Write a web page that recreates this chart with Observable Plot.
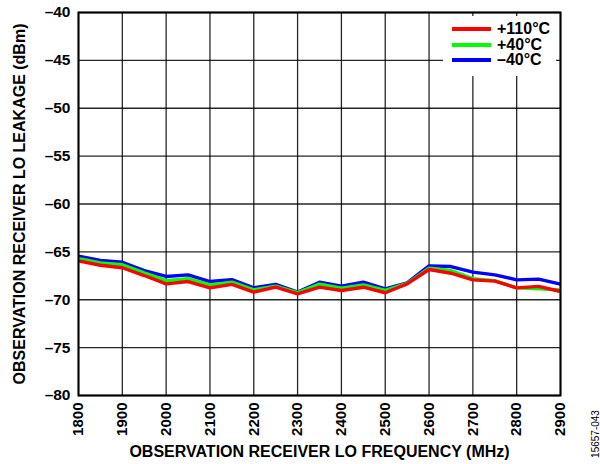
<!DOCTYPE html>
<html>
<head>
<meta charset="utf-8">
<script src="https://cdn.jsdelivr.net/npm/d3@7"></script>
<script src="https://cdn.jsdelivr.net/npm/@observablehq/plot@0.6"></script>
<style>
  html, body { margin: 0; padding: 0; background: #fff; }
  #wrap { position: relative; width: 600px; height: 464px; font-family: "Liberation Sans", Arial, sans-serif; }
  #legend { position: absolute; left: 443px; top: 16px; width: 113px; height: 60px; background: #fff; }
  #legend .row { position: absolute; left: 0; height: 16px; display: flex; align-items: center; }
  #legend .sw { width: 39px; height: 4px; margin-left: 9px; margin-right: 6px; }
  #legend .lbl { font-weight: bold; font-size: 16px; color: #000; line-height: 16px; }
  #code { position: absolute; left: 595px; top: 434px; transform: translate(-50%, -50%) rotate(-90deg); font-size: 10px; color: #000; white-space: nowrap; }
</style>
</head>
<body>
<div id="wrap"></div>
<script>
const freq = [1800,1850,1900,1950,2000,2050,2100,2150,2200,2250,2300,2350,2400,2450,2500,2550,2600,2650,2700,2750,2800,2850,2900];
const t110 = [-65.94,-66.4,-66.66,-67.47,-68.34,-68.1,-68.76,-68.4,-69.2,-68.69,-69.38,-68.68,-69.03,-68.69,-69.27,-68.34,-66.84,-67.23,-67.92,-68.06,-68.76,-68.6,-69.14];
const t40  = [-65.7,-66.15,-66.35,-67.2,-68.0,-67.8,-68.45,-68.17,-68.97,-68.58,-69.25,-68.37,-68.79,-68.45,-69.03,-68.28,-66.7,-66.95,-67.8,-68.0,-68.76,-68.86,-68.97];
const tm40 = [-65.45,-65.9,-66.08,-66.95,-67.57,-67.4,-68.1,-67.9,-68.76,-68.4,-69.2,-68.17,-68.58,-68.17,-68.86,-68.24,-66.46,-66.53,-67.12,-67.4,-67.92,-67.85,-68.37];
const seriesNames = ["+110°C", "+40°C", "\u221240°C"];
const seriesColors = ["#ff0000", "#00ff00", "#0000ff"];
const xTicks = [1800,1900,2000,2100,2200,2300,2400,2500,2600,2700,2800,2900];
const yTicks = [-80,-75,-70,-65,-60,-55,-50,-45,-40];
const xTitle = "OBSERVATION RECEIVER LO FREQUENCY (MHz)";
const yTitle = "OBSERVATION RECEIVER LO LEAKAGE (dBm)";
const figCode = "15657-043";

const valuesBySeries = [t110, t40, tm40];
const rows = [];
// draw order: blue first, then green, red on top
[2, 1, 0].forEach(si => {
  freq.forEach((f, i) => rows.push({ f, v: valuesBySeries[si][i], s: seriesNames[si] }));
});

const chart = Plot.plot({
  width: 600,
  height: 464,
  marginLeft: 78,
  marginRight: 40,
  marginTop: 12,
  marginBottom: 69,
  style: { fontFamily: "'Liberation Sans', Arial, sans-serif", fontWeight: "bold", fontSize: "15px", color: "#000", background: "#fff" },
  x: { domain: [1800, 2900] },
  y: { domain: [-80, -40] },
  color: { domain: seriesNames, range: seriesColors },
  marks: [
    Plot.gridX(xTicks, { stroke: "#000", strokeOpacity: 0.85, strokeWidth: 1.3 }),
    Plot.gridY(yTicks, { stroke: "#000", strokeOpacity: 0.85, strokeWidth: 1.3 }),
    Plot.axisY({ ticks: yTicks, tickSize: 0, tickPadding: 8, tickFormat: d => String(d).replace("-", "\u2013"),
      label: null, fontSize: 15.5 }),
    Plot.axisY({ ticks: [], tickSize: 0,
      label: yTitle, labelAnchor: "center", labelOffset: 65, labelArrow: "none", fontSize: 16 }),
    Plot.axisX({ ticks: xTicks, tickSize: 0, tickPadding: 7, tickRotate: -90, tickFormat: d => String(d),
      label: null, fontSize: 15 }),
    Plot.axisX({ ticks: [], tickSize: 0,
      label: xTitle, labelAnchor: "center", labelOffset: 61, labelArrow: "none", fontSize: 16 }),
    Plot.line(rows, { x: "f", y: "v", z: "s", stroke: "s", strokeWidth: 3.4, strokeLinejoin: "miter", strokeLinecap: "butt" }),
    Plot.frame({ stroke: "#000", strokeWidth: 2 })
  ]
});

const wrap = document.getElementById("wrap");
wrap.appendChild(chart);

const legend = document.createElement("div");
legend.id = "legend";
seriesNames.forEach((name, i) => {
  const row = document.createElement("div");
  row.className = "row";
  row.style.top = (5 + i * 15.7) + "px";
  const sw = document.createElement("div");
  sw.className = "sw";
  sw.style.background = seriesColors[i];
  const lbl = document.createElement("span");
  lbl.className = "lbl";
  lbl.textContent = name.replace("\u2212", "\u2013");
  row.appendChild(sw);
  row.appendChild(lbl);
  legend.appendChild(row);
});
wrap.appendChild(legend);

const code = document.createElement("div");
code.id = "code";
code.textContent = figCode;
wrap.appendChild(code);
</script>
</body>
</html>
